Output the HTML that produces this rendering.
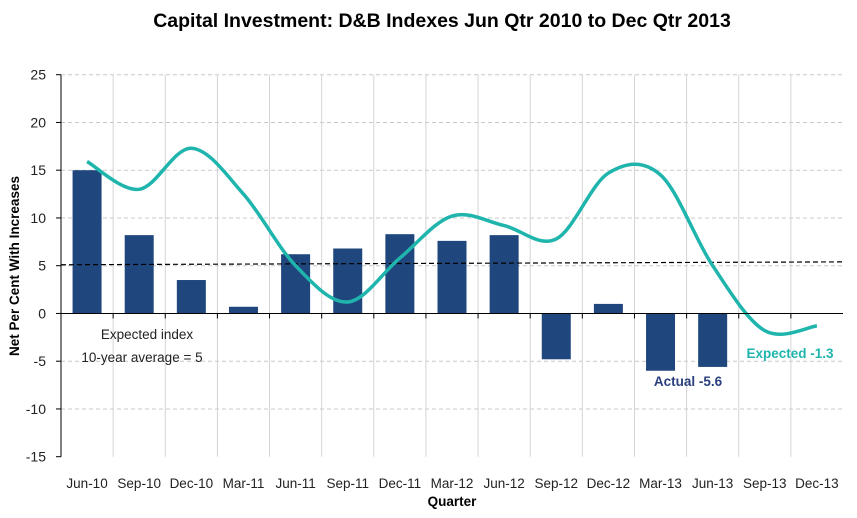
<!DOCTYPE html>
<html><head><meta charset="utf-8"><style>
body{margin:0;background:#fff;}
svg{display:block;font-family:"Liberation Sans",sans-serif;}
</style></head><body>
<svg id="c" width="857" height="518">
<text x="442" y="27" text-anchor="middle" font-size="19.5" font-weight="bold" fill="#000">Capital Investment: D&amp;B Indexes Jun Qtr 2010 to Dec Qtr 2013</text>
<g id="grid"></g><g id="bars"></g><g id="lines"></g><g id="axes"></g>
<text transform="translate(19,266) rotate(-90)" text-anchor="middle" font-size="13.5" font-weight="bold">Net Per Cent With Increases</text>
<text x="452" y="506" text-anchor="middle" font-size="13.5" font-weight="bold">Quarter</text>
<text x="147" y="339" text-anchor="middle" font-size="13.5" fill="#222">Expected index</text>
<text x="142" y="362" text-anchor="middle" font-size="13.5" fill="#222">10-year average = 5</text>
<text x="688" y="386" text-anchor="middle" font-size="13.5" font-weight="bold" fill="#2a3f7e">Actual -5.6</text>
<text x="790" y="358" text-anchor="middle" font-size="13.5" font-weight="bold" fill="#1fb5ad">Expected -1.3</text>
</svg>
<script>
const categories=["Jun-10","Sep-10","Dec-10","Mar-11","Jun-11","Sep-11","Dec-11","Mar-12","Jun-12","Sep-12","Dec-12","Mar-13","Jun-13","Sep-13","Dec-13"];
const actual=[15,8.2,3.5,0.7,6.2,6.8,8.3,7.6,8.2,-4.8,1.0,-6.0,-5.6,null,null];
const expected=[15.9,13,17.3,12.5,5,1.2,5.8,10.2,9.2,7.8,14.7,14.5,5,-1.8,-1.3];
const avgStart=5.1, avgEnd=5.4;
const yTicks=[25,20,15,10,5,0,-5,-10,-15];
const NS="http://www.w3.org/2000/svg";
const L=61,R=843,T=74.7,B=456.7,ymin=-15,ymax=25;
const step=(R-L)/categories.length;
const x=i=>L+step*(i+0.5);
const y=v=>B-(v-ymin)/(ymax-ymin)*(B-T);
function mk(p,t,a){const e=document.createElementNS(NS,t);for(const k in a)e.setAttribute(k,a[k]);document.getElementById(p).appendChild(e);return e;}
yTicks.forEach(v=>{
 if(v!==0&&v!==ymin){const g=mk("grid","line",{x1:L,x2:R,y1:y(v),y2:y(v),stroke:"#c8c8c8","stroke-dasharray":"4,3"});
 
 }
 const t=mk("axes","text",{x:L-15,y:y(v)+5,"text-anchor":"end","font-size":"14",fill:"#222"});t.textContent=v;
 
 
 mk("axes","line",{x1:L-5,x2:L,y1:y(v),y2:y(v),stroke:"#000"});
});
for(let i=1;i<categories.length;i++){
 const g=mk("grid","line",{x1:L+step*i,x2:L+step*i,y1:T,y2:B,stroke:"#d4d4d4"});
 
 
 mk("axes","line",{x1:L+step*i,x2:L+step*i,y1:y(0),y2:y(0)+5,stroke:"#000"});
}
categories.forEach((c,i)=>{
 const t=mk("axes","text",{x:x(i),y:488,"text-anchor":"middle","font-size":"13.5",fill:"#222"});t.textContent=c;
 
 
 const v=actual[i];if(v===null)return;
 const r=mk("bars","rect",{x:x(i)-14.5,width:29,y:Math.min(y(v),y(0)),height:Math.abs(y(v)-y(0)),fill:"#1f477d"});
 
 
});
mk("axes","line",{x1:L,x2:L,y1:T,y2:B,stroke:"#000"});
mk("axes","line",{x1:L,x2:R,y1:y(0),y2:y(0),stroke:"#000"});
const av=mk("lines","line",{x1:L,x2:R,y1:y(avgStart),y2:y(avgEnd),stroke:"#000","stroke-dasharray":"5,3","stroke-width":1.2});


const pts=expected.map((v,i)=>[x(i),y(v)]);
let d="M"+pts[0][0]+","+pts[0][1];
for(let i=0;i<pts.length-1;i++){
 const p0=pts[i-1]||pts[i],p1=pts[i],p2=pts[i+1],p3=pts[i+2]||p2;
 d+=" C"+(p1[0]+(p2[0]-p0[0])/6)+","+(p1[1]+(p2[1]-p0[1])/6)+" "+(p2[0]-(p3[0]-p1[0])/6)+","+(p2[1]-(p3[1]-p1[1])/6)+" "+p2[0]+","+p2[1];
}
const ln=mk("lines","path",{d:d,fill:"none",stroke:"#1fb5ad","stroke-width":3.5});


</script>
</body></html>
